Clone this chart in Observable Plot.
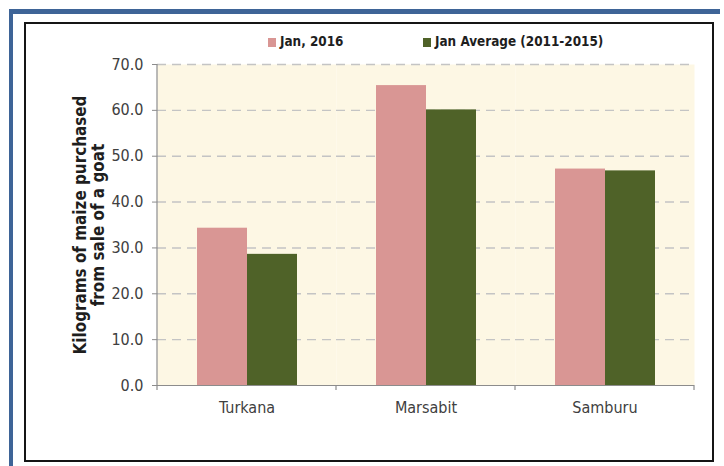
<!DOCTYPE html>
<html><head><meta charset="utf-8">
<script src="https://cdn.jsdelivr.net/npm/d3@7"></script>
<script src="https://cdn.jsdelivr.net/npm/@observablehq/plot@0.6"></script>
<style>
body{margin:0;background:#fff;}
#wrap{position:relative;width:724px;height:466px;overflow:hidden;font-family:"DejaVu Sans Condensed",sans-serif;}
.blue-top{position:absolute;left:9px;top:9px;width:711px;height:5px;background:#3E6497;}
.blue-left{position:absolute;left:9px;top:9px;width:4px;height:457px;background:#3E6497;}
.frame{position:absolute;left:24px;top:22px;width:686px;height:436px;border:2px solid #151515;}
#chart{position:absolute;left:0;top:0;}
.leg{position:absolute;top:33px;font-weight:bold;font-size:13.4px;color:#1e1e1e;white-space:nowrap;line-height:18px;}
.sw{display:inline-block;width:8px;height:9px;margin-right:4px;vertical-align:-1px;}
.ylab{position:absolute;left:89px;top:225px;transform:translate(-50%,-50%) rotate(-90deg);font-weight:bold;font-size:16.9px;line-height:18px;text-align:center;color:#1e1e1e;white-space:nowrap;}
</style></head>
<body>
<div id="wrap">
  <div class="blue-top"></div>
  <div class="blue-left"></div>
  <div class="frame"></div>
  <div id="chart"></div>
  <div class="leg" id="leg0" style="left:268px"></div>
  <div class="leg" id="leg1" style="left:423px"></div>
  <div class="ylab" id="ylab"></div>
</div>
<script>
const regions = ["Turkana", "Marsabit", "Samburu"];
const seriesNames = ["Jan, 2016", "Jan Average (2011-2015)"];
const jan2016 = [34.3, 65.4, 47.2];
const janAvg = [28.6, 60.1, 46.8];
const yTicks = [0, 10, 20, 30, 40, 50, 60, 70];
const yLabelLines = ["Kilograms of maize purchased", "from sale of a goat"];
const colors = ["#D99694", "#4F6228"];
const cream = "#FDF7E4";
const font = '"DejaVu Sans Condensed",sans-serif';

const data = regions.flatMap((r, i) => [
  {region: r, series: seriesNames[0], value: jan2016[i]},
  {region: r, series: seriesNames[1], value: janAvg[i]}
]);
const fmt = d3.format(".1f");

const chart = Plot.plot({
  width: 724, height: 466,
  marginLeft: 157, marginRight: 30, marginTop: 64, marginBottom: 81,
  style: {fontFamily: font, fontSize: "16px", color: "#404040", background: "transparent"},
  fx: {domain: regions, paddingInner: 0, paddingOuter: 0, label: null},
  x: {domain: seriesNames, paddingInner: 0, paddingOuter: 0.755, axis: null},
  y: {domain: [0, 70], label: null},
  color: {domain: seriesNames, range: colors},
  marks: [
    Plot.frame({fill: cream, stroke: null}),
    Plot.gridY(yTicks.slice(1), {stroke: "#C4C4C4", strokeOpacity: 1, strokeDasharray: "9,6", strokeWidth: 1.4}),
    Plot.barY(data, {fx: "region", x: "series", y: "value", fill: "series"}),
    Plot.axisY(yTicks, {tickSize: 5, tickPadding: 9, stroke: "#8C8C8C", fill: "#404040", tickFormat: fmt, label: null}),
    Plot.axisFx({anchor: "bottom", tickSize: 0, tickPadding: 16, fill: "#404040", label: null}),
    Plot.ruleY([0], {stroke: "#8C8C8C", strokeWidth: 1.2})
  ]
});
document.getElementById("chart").appendChild(chart);

// axis line and category boundary ticks from the plot's own scales
const fx = chart.scale("fx"), y = chart.scale("y");
const svg = d3.select(chart);
const y0 = y.apply(0), yTop = y.apply(70);
const bounds = regions.map(r => fx.apply(r)).concat([fx.apply(regions[regions.length - 1]) + fx.bandwidth]);
svg.append("line").attr("x1", bounds[0]).attr("x2", bounds[0]).attr("y1", yTop).attr("y2", y0)
  .attr("stroke", "#8C8C8C").attr("stroke-width", 1.2);
svg.selectAll(".bt").data(bounds).join("line")
  .attr("x1", d => d).attr("x2", d => d).attr("y1", y0).attr("y2", y0 + 5)
  .attr("stroke", "#8C8C8C").attr("stroke-width", 1.2);

seriesNames.forEach((s, i) => {
  document.getElementById("leg" + i).innerHTML =
    `<span class="sw" style="background:${colors[i]}"></span>${s}`;
});
document.getElementById("ylab").innerHTML = yLabelLines.join("<br>");
</script>
</body></html>
